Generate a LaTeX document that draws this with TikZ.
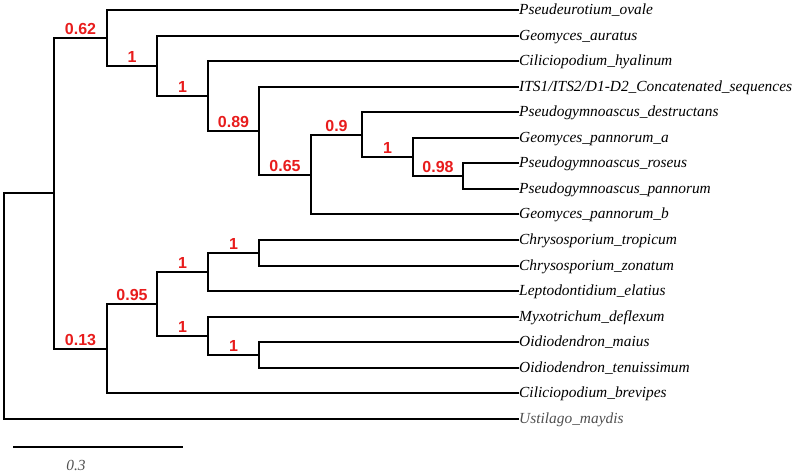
\documentclass[tikz,border=0pt]{standalone}
\usepackage{fontspec}
\setmainfont{Liberation Serif}
\newfontfamily\labelfont{Liberation Sans}
\usepackage{tikz}
\definecolor{supportred}{RGB}{232,28,28}
\definecolor{outgray}{RGB}{80,80,80}

\begin{document}
\begin{tikzpicture}[
    x=1pt, y=-1pt,
    branch/.style={draw, line width=2pt, black},
    leaf/.style={anchor=west, inner sep=0pt, xshift=1pt, text height=10.5pt, text depth=1.5pt, font=\fontsize{15.4}{15.4}\selectfont\itshape},
    support/.style={above, pos=0.75, inner sep=2pt, text=supportred, font=\fontsize{16}{16}\selectfont\labelfont\bfseries}
]
    \useasboundingbox (0,0) rectangle (794,474);

    % Leaves
    \node[leaf] (ovale) at (518,10) {Pseudeurotium\_ovale};
    \node[leaf] (auratus) at (518,35.55) {Geomyces\_auratus};
    \node[leaf] (hyalinum) at (518,61.1) {Ciliciopodium\_hyalinum};
    \node[leaf] (its) at (518,86.65) {ITS1/ITS2/D1-D2\_Concatenated\_sequences};
    \node[leaf] (destructans) at (518,112.2) {Pseudogymnoascus\_destructans};
    \node[leaf] (pannoruma) at (518,137.75) {Geomyces\_pannorum\_a};
    \node[leaf] (roseus) at (518,163.3) {Pseudogymnoascus\_roseus};
    \node[leaf] (pannorum) at (518,188.85) {Pseudogymnoascus\_pannorum};
    \node[leaf] (pannorumb) at (518,214.4) {Geomyces\_pannorum\_b};
    \node[leaf] (tropicum) at (518,239.95) {Chrysosporium\_tropicum};
    \node[leaf] (zonatum) at (518,265.5) {Chrysosporium\_zonatum};
    \node[leaf] (elatius) at (518,291.05) {Leptodontidium\_elatius};
    \node[leaf] (deflexum) at (518,316.6) {Myxotrichum\_deflexum};
    \node[leaf] (maius) at (518,342.15) {Oidiodendron\_maius};
    \node[leaf] (tenuissimum) at (518,367.7) {Oidiodendron\_tenuissimum};
    \node[leaf] (brevipes) at (518,393.25) {Ciliciopodium\_brevipes};
    \node[leaf, text=outgray] (maydis) at (518,418.8) {Ustilago\_maydis};

    % Internal nodes
    \coordinate (root) at (4,306);
    \coordinate (nA) at (54,193.2);
    \coordinate (nB) at (107,37.8);
    \coordinate (nC) at (157,65.7);
    \coordinate (nD) at (208,95.8);
    \coordinate (nE) at (259,130.6);
    \coordinate (nF) at (311,174.5);
    \coordinate (nG) at (362,134.6);
    \coordinate (nH) at (413,156.9);
    \coordinate (nI) at (463,176.1);
    \coordinate (nJ) at (107,348.5);
    \coordinate (nK) at (157,303.8);
    \coordinate (nL) at (208,271.9);
    \coordinate (nM) at (259,252.7);
    \coordinate (nN) at (208,335.8);
    \coordinate (nO) at (259,354.9);

    % Branches
    \draw[branch] (root) |- (nA);
    \draw[branch] (root) |- (maydis.west);
    \draw[branch] (nA) |- node[support] {0.62} (nB);
    \draw[branch] (nA) |- node[support] {0.13} (nJ);
    \draw[branch] (nB) |- (ovale.west);
    \draw[branch] (nB) |- node[support] {1} (nC);
    \draw[branch] (nC) |- (auratus.west);
    \draw[branch] (nC) |- node[support] {1} (nD);
    \draw[branch] (nD) |- (hyalinum.west);
    \draw[branch] (nD) |- node[support] {0.89} (nE);
    \draw[branch] (nE) |- (its.west);
    \draw[branch] (nE) |- node[support] {0.65} (nF);
    \draw[branch] (nF) |- node[support] {0.9} (nG);
    \draw[branch] (nF) |- (pannorumb.west);
    \draw[branch] (nG) |- (destructans.west);
    \draw[branch] (nG) |- node[support] {1} (nH);
    \draw[branch] (nH) |- (pannoruma.west);
    \draw[branch] (nH) |- node[support] {0.98} (nI);
    \draw[branch] (nI) |- (roseus.west);
    \draw[branch] (nI) |- (pannorum.west);
    \draw[branch] (nJ) |- node[support] {0.95} (nK);
    \draw[branch] (nJ) |- (brevipes.west);
    \draw[branch] (nK) |- node[support] {1} (nL);
    \draw[branch] (nK) |- node[support] {1} (nN);
    \draw[branch] (nL) |- node[support] {1} (nM);
    \draw[branch] (nL) |- (elatius.west);
    \draw[branch] (nM) |- (tropicum.west);
    \draw[branch] (nM) |- (zonatum.west);
    \draw[branch] (nN) |- (deflexum.west);
    \draw[branch] (nN) |- node[support] {1} (nO);
    \draw[branch] (nO) |- (maius.west);
    \draw[branch] (nO) |- (tenuissimum.west);

    % Scale bar
    \coordinate (bar0) at (13,447);
    \coordinate (bar1) at (183,447);
    \draw[branch] (bar0) -- (bar1);
    \node[text=outgray, font=\fontsize{15.4}{15.4}\selectfont\itshape] (barlabel) at (76,465) {0.3};
\end{tikzpicture}
\end{document}
